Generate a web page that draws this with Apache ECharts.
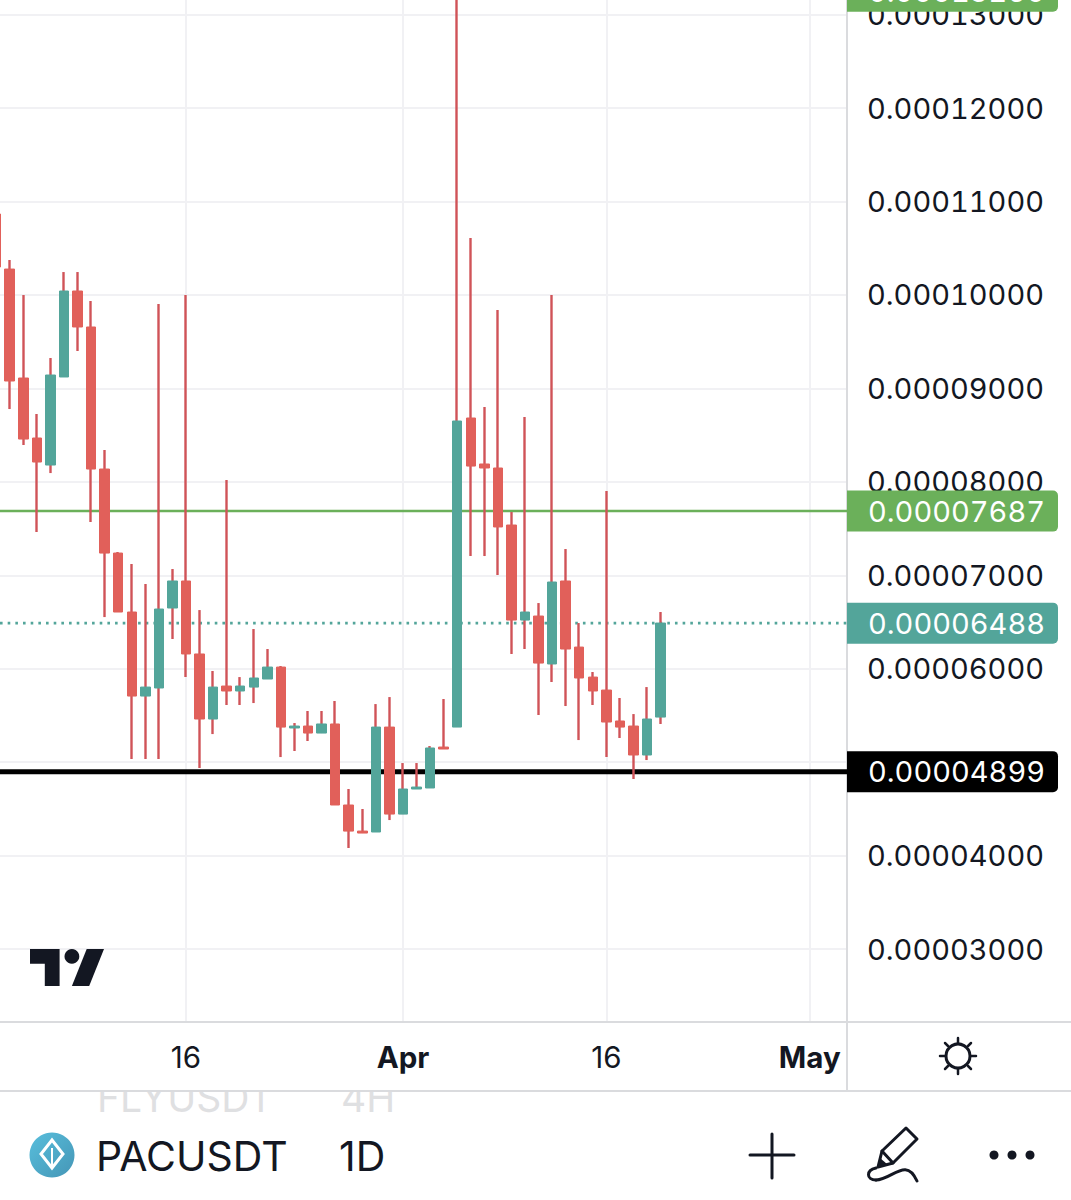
<!DOCTYPE html>
<html>
<head>
<meta charset="utf-8">
<title>PACUSDT 1D</title>
<style>
  html, body { margin: 0; padding: 0; background: #fff; }
  #chart { width: 1071px; height: 1200px; }
  /* price digits line up in the original */
  #chart text { font-feature-settings: "tnum" 1; font-variant-numeric: tabular-nums; }
</style>
<script src="https://cdn.jsdelivr.net/npm/echarts@6/dist/echarts.min.js"></script>
</head>
<body>
<div id="chart"></div>
<script>
// daily candles
const dates = [
  '2025-03-02','2025-03-03','2025-03-04','2025-03-05','2025-03-06','2025-03-07','2025-03-08','2025-03-09','2025-03-10','2025-03-11',
  '2025-03-12','2025-03-13','2025-03-14','2025-03-15','2025-03-16','2025-03-17','2025-03-18','2025-03-19','2025-03-20','2025-03-21',
  '2025-03-22','2025-03-23','2025-03-24','2025-03-25','2025-03-26','2025-03-27','2025-03-28','2025-03-29','2025-03-30','2025-03-31',
  '2025-04-01','2025-04-02','2025-04-03','2025-04-04','2025-04-05','2025-04-06','2025-04-07','2025-04-08','2025-04-09','2025-04-10',
  '2025-04-11','2025-04-12','2025-04-13','2025-04-14','2025-04-15','2025-04-16','2025-04-17','2025-04-18','2025-04-19','2025-04-20'
];
const opens = [
  0.00010866,0.00010277,0.00009111,0.00008469,0.00008180,0.00009122,0.00010042,0.00009657,0.00008137,0.00007238,
  0.00006607,0.00005708,0.00005794,0.00006650,0.00006939,0.00006158,0.00005462,0.00005815,0.00005762,0.00005804,
  0.00005890,0.00006018,0.00005366,0.00005387,0.00005312,0.00005409,0.00004542,0.00004263,0.00004253,0.00005376,
  0.00004445,0.00004713,0.00004724,0.00005162,0.00005376,0.00008683,0.00008191,0.00008148,0.00007538,0.00006521,
  0.00006564,0.00006051,0.00006939,0.00006232,0.00005911,0.00005772,0.00005441,0.00005387,0.00005077,0.00005483
];
const closes = [
  0.00010299,0.00009079,0.00008458,0.00008212,0.00009143,0.00010042,0.00009657,0.00008137,0.00007238,0.00006607,
  0.00005708,0.00005804,0.00006639,0.00006939,0.00006158,0.00005462,0.00005804,0.00005762,0.00005815,0.00005901,
  0.00006018,0.00005376,0.00005387,0.00005312,0.00005409,0.00004542,0.00004263,0.00004242,0.00005376,0.00004445,
  0.00004713,0.00004734,0.00005152,0.00005141,0.00008651,0.00008169,0.00008148,0.00007517,0.00006521,0.00006607,
  0.00006061,0.00006928,0.00006211,0.00005901,0.00005762,0.00005430,0.00005376,0.00005077,0.00005462,0.00006489
];
const lows = [
  0.00010299,0.00008779,0.00008394,0.00007463,0.00008094,0.00009122,0.00009400,0.00007570,0.00006553,0.00006607,
  0.00005034,0.00005034,0.00005034,0.00006318,0.00005911,0.00004938,0.00005301,0.00005612,0.00005612,0.00005633,
  0.00005890,0.00005055,0.00005120,0.00005227,0.00005312,0.00004542,0.00004082,0.00004242,0.00004253,0.00004381,
  0.00004445,0.00004713,0.00004724,0.00005141,0.00005376,0.00007206,0.00007206,0.00007003,0.00006158,0.00006211,
  0.00005505,0.00005858,0.00005601,0.00005237,0.00005612,0.00005055,0.00005259,0.00004820,0.00005023,0.00005409
];
const highs = [
  0.00010866,0.00010374,0.00009999,0.00008726,0.00009325,0.00010245,0.00010245,0.00009935,0.00008341,0.00007249,
  0.00007121,0.00006907,0.00009903,0.00007067,0.00009999,0.00006628,0.00005976,0.00008020,0.00005911,0.00006425,
  0.00006211,0.00006029,0.00005419,0.00005548,0.00005548,0.00005655,0.00004713,0.00004499,0.00005622,0.00005697,
  0.00004991,0.00004991,0.00005173,0.00005676,0.00014000,0.00010609,0.00008801,0.00009839,0.00007677,0.00008694,
  0.00006703,0.00009999,0.00007281,0.00006489,0.00005965,0.00007902,0.00005687,0.00005515,0.00005804,0.00006607
];

const priceTicks = [0.00003,0.00004,0.00005,0.00006,0.00007,0.00008,0.00009,0.0001,0.00011,0.00012,0.00013];
const dateTicks = ['2025-03-16','2025-04-01','2025-04-16','2025-05-01'];
const dateTickLabels = ['16','{b|Apr}','16','{b|May}'];

// price lines with their tags on the right
const lineValues = [0.00013250, 0.00007687, 0.00006488, 0.00004899];
const lineColors = ['#6BB05A', '#6BB05A', '#53A59A', '#000000'];
const lineWidths = [2.5, 2.5, 2.6, 5];
const lineTypes = ['solid', 'solid', [2.6, 5.07], 'solid'];

const RED = '#E1605A', WICK = '#D05358', GREEN = '#53A59A';
const INK = '#131722', RULE = '#DADBDE', GRID = '#F1F1F4';
const FONT = 'Inter';

// x axis is in whole days
const toDay = (d) => Date.parse(d) / 86400000;
const mid = toDay('2025-03-16');
const dayTicks = dateTicks.map(toDay);
const xMin = mid - 13.717, xMax = mid + 48.746;

const wickData = dates.map((d, i) => [toDay(d), opens[i], closes[i], lows[i], highs[i]]);
const bodyData = dates.map((d, i) => [toDay(d), opens[i], closes[i], Math.min(opens[i], closes[i]), Math.max(opens[i], closes[i])]);

const priceLines = lineValues.map((v, i) => ({
  type: 'line',
  data: [[xMin, v], [xMax, v]],
  showSymbol: false,
  silent: true,
  clip: false,
  z: 2,
  lineStyle: { color: lineColors[i], width: lineWidths[i], type: lineTypes[i] },
  endLabel: {
    show: true,
    distance: 0,
    formatter: v.toFixed(8),
    fontFamily: FONT,
    fontSize: 29,
    lineHeight: 34,
    width: 176,
    color: '#fff',
    backgroundColor: lineColors[i],
    borderRadius: [0, 5, 5, 0],
    padding: [4, 14, 3, 21]
  }
}));

// small helper for the ui icons around the chart
const stroke = (type, shape, lineWidth, color) => ({
  type, z: 1, shape,
  style: { fill: 'none', stroke: color || INK, lineWidth, lineCap: 'round', lineJoin: 'round' }
});
const rule = (x1, y1, x2, y2) => ({ type: 'line', z: 1, shape: { x1, y1, x2, y2 }, style: { stroke: RULE, lineWidth: 2 } });
const ray = (x1, y1, x2, y2) => stroke('line', { x1, y1, x2, y2 }, 2.5);

const chart = echarts.init(document.getElementById('chart'), null, { renderer: 'svg' });
chart.setOption({
  animation: false,
  backgroundColor: '#fff',
  textStyle: { fontFamily: FONT },
  grid: { left: 0, top: 0, width: 847, height: 1022 },
  xAxis: {
    type: 'value',
    min: xMin,
    max: xMax,
    axisLine: { show: true, lineStyle: { color: RULE, width: 2 } },
    axisTick: { show: false, customValues: dayTicks },
    splitLine: { show: true, lineStyle: { color: GRID, width: 2 } },
    axisLabel: {
      customValues: dayTicks,
      margin: 20,
      fontFamily: FONT,
      fontSize: 29.5,
      color: INK,
      hideOverlap: false,
      formatter: (v) => dateTickLabels[dayTicks.indexOf(v)],
      rich: { b: { fontFamily: FONT, fontSize: 29.5, fontWeight: 700, color: INK } }
    }
  },
  yAxis: {
    type: 'value',
    position: 'right',
    min: 0.0000222,
    max: 0.00013156,
    axisLine: { show: true, lineStyle: { color: RULE, width: 2 } },
    axisTick: { show: false, customValues: priceTicks },
    splitLine: { show: true, lineStyle: { color: GRID, width: 2 } },
    axisLabel: {
      customValues: priceTicks,
      margin: 20,
      fontFamily: FONT,
      fontSize: 29,
      color: INK,
      hideOverlap: false,
      padding: [4, 0, 0, 0],
      formatter: (v) => v.toFixed(8)
    }
  },
  series: [
    {
      // wicks are red on every candle
      type: 'candlestick',
      data: wickData,
      barWidth: 1,
      z: 3,
      itemStyle: { color: WICK, color0: WICK, borderColor: WICK, borderColor0: WICK, borderColorDoji: WICK, borderWidth: 2.4 }
    },
    {
      type: 'candlestick',
      data: bodyData,
      barWidth: 10,
      z: 4,
      itemStyle: { color: GREEN, color0: RED, borderColor: GREEN, borderColor0: RED, borderWidth: 1 }
    },
    ...priceLines
  ],
  graphic: { elements: [
    // tradingview mark
    { type: 'polygon', z: 1, shape: { points: [[59.6, 949], [30, 949], [30, 963.8], [44.8, 963.8], [44.8, 986], [59.6, 986]] }, style: { fill: INK } },
    { type: 'polygon', z: 1, shape: { points: [[89.2, 986], [71.9, 986], [86.7, 949], [104, 949]] }, style: { fill: INK } },
    { type: 'circle', z: 1, shape: { cx: 71.9, cy: 956.4, r: 7.4 }, style: { fill: INK } },
    // rules around the panels
    rule(847, 1022, 1071, 1022),
    rule(847, 1022, 847, 1090),
    rule(0, 1091, 1071, 1091),
    // sun button
    stroke('circle', { cx: 958, cy: 1056, r: 12 }, 3),
    ray(958, 1038, 958, 1043), ray(958, 1069, 958, 1074), ray(940, 1056, 945, 1056), ray(971, 1056, 976, 1056),
    ray(945, 1043, 948, 1046), ray(968, 1066, 971, 1069), ray(971, 1043, 968, 1046), ray(945, 1069, 948, 1066),
    // previous symbol sliding under the panel
    { type: 'text', z: -2, style: { x: 97, y: 1117, text: 'FLYUSDT', font: '39px Inter', fill: '#DFE0E2', textVerticalAlign: 'bottom' } },
    { type: 'text', z: -2, style: { x: 341, y: 1117, text: '4H', font: '39px Inter', fill: '#DFE0E2', textVerticalAlign: 'bottom' } },
    { type: 'rect', z: -1, shape: { x: 0, y: 1060, width: 1071, height: 30 }, style: { fill: '#fff' } },
    // bottom bar
    { type: 'circle', z: 1, shape: { cx: 52, cy: 1155, r: 22.5 }, style: { fill: new echarts.graphic.LinearGradient(0, 0, 1, 1, [{ offset: 0, color: '#58BEDC' }, { offset: 1, color: '#4596B6' }]) } },
    { type: 'polygon', z: 2, shape: { points: [[52, 1140], [63, 1154], [52, 1168], [41, 1154]] }, style: { fill: 'none', stroke: '#fff', lineWidth: 3 } },
    { type: 'line', z: 2, shape: { x1: 52, y1: 1148, x2: 52, y2: 1166 }, style: { stroke: '#fff', lineWidth: 2 } },
    { type: 'text', z: 1, style: { x: 96, y: 1156, text: 'PACUSDT', font: '41px Inter', fill: INK, textVerticalAlign: 'middle' } },
    { type: 'text', z: 1, style: { x: 339, y: 1156, text: '1D', font: '41px Inter', fill: INK, textVerticalAlign: 'middle' } },
    stroke('line', { x1: 750, y1: 1155, x2: 794, y2: 1155 }, 3),
    stroke('line', { x1: 772, y1: 1134, x2: 772, y2: 1178 }, 3),
    // pencil and its squiggle
    stroke('polygon', { points: [[878, 1167], [882, 1151], [906, 1128], [917, 1139], [893, 1163]] }, 3),
    stroke('line', { x1: 882, y1: 1151, x2: 893, y2: 1163 }, 3),
    { type: 'polygon', z: 1, shape: { points: [[878, 1167], [880, 1158], [887, 1164]] }, style: { fill: INK } },
    stroke('bezierCurve', { x1: 876, y1: 1168, cpx1: 866, cpy1: 1170, cpx2: 866, cpy2: 1180, x2: 876, y2: 1180 }, 3),
    stroke('bezierCurve', { x1: 876, y1: 1180, cpx1: 892, cpy1: 1180, cpx2: 906, cpy2: 1156, x2: 917, y2: 1181 }, 3),
    { type: 'circle', z: 1, shape: { cx: 994, cy: 1155, r: 4.5 }, style: { fill: INK } },
    { type: 'circle', z: 1, shape: { cx: 1012, cy: 1155, r: 4.5 }, style: { fill: INK } },
    { type: 'circle', z: 1, shape: { cx: 1030, cy: 1155, r: 4.5 }, style: { fill: INK } }
  ] }
});
</script>
</body>
</html>
